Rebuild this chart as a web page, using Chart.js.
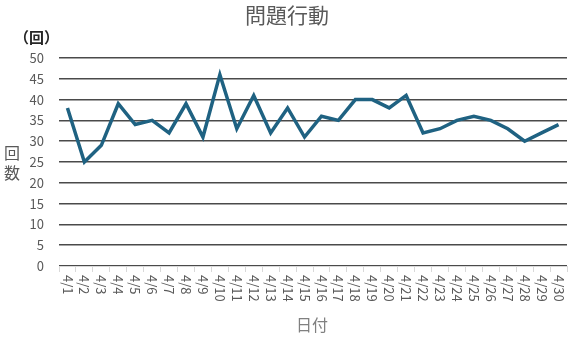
<!DOCTYPE html>
<html>
<head>
<meta charset="utf-8">
<script src="https://cdn.jsdelivr.net/npm/chart.js@4"></script>
<style>
  html, body { margin: 0; padding: 0; background: #fff; }
  #wrap { width: 571px; height: 337px; }
</style>
</head>
<body>
<div id="wrap"><canvas id="chart"></canvas></div>
<script>
// --- DATA ---
const days = ['4/1','4/2','4/3','4/4','4/5','4/6','4/7','4/8','4/9','4/10',
              '4/11','4/12','4/13','4/14','4/15','4/16','4/17','4/18','4/19','4/20',
              '4/21','4/22','4/23','4/24','4/25','4/26','4/27','4/28','4/29','4/30'];
const counts = [38, 25, 29, 39, 34, 35, 32, 39, 31, 46,
                33, 41, 32, 38, 31, 36, 35, 40, 40, 38,
                41, 32, 33, 35, 36, 35, 33, 30, 32, 34];
const chartTitle = '問題行動';
const unitLabel = '（回）';
const yTitle = ['回', '数'];
const xTitle = '日付';

const FONT = '"Noto Sans CJK JP", "Noto Sans", sans-serif';

// --- TEXT PLUGIN (title, axis titles, rotated day labels) ---
const textPlugin = {
    id: 'texts',
    afterDraw(chart) {
        const c = chart.ctx;
        const xs = chart.scales.x;
        c.save();
        c.fillStyle = '#595959';
        c.font = '21px ' + FONT;
        c.textAlign = 'center';
        c.textBaseline = 'middle';
        c.fillText(chartTitle, 287, 15);

        c.fillStyle = '#262626';
        c.font = 'bold 15px ' + FONT;
        c.textAlign = 'left';
        c.fillText(unitLabel, 14, 37);

        c.fillStyle = '#595959';
        c.font = '16px ' + FONT;
        c.textAlign = 'center';
        yTitle.forEach((ch, i) => c.fillText(ch, 12, 153 + i * 20));

        c.fillStyle = '#808080';
        c.fillText(xTitle, 312, 325);

        // day labels, rotated clockwise
        c.fillStyle = '#595959';
        c.font = '13px ' + FONT;
        c.textAlign = 'left';
        days.forEach((d, i) => {
            const x = xs.getPixelForValue(i);
            c.save();
            c.translate(x, 275);
            c.rotate(Math.PI / 2);
            c.fillText(d, 0, 0);
            c.restore();
        });
        c.restore();
    }
};

const ctx = document.getElementById('chart').getContext('2d');
new Chart(ctx, {
    type: 'line',
    data: {
        labels: days,
        datasets: [{
            data: counts,
            borderColor: '#1f6282',
            borderWidth: 3.5,
            pointRadius: 0,
            tension: 0,
            borderJoinStyle: 'miter'
        }]
    },
    options: {
        responsive: true,
        maintainAspectRatio: false,
        animation: false,
        layout: { padding: { top: 58, right: 4, left: 0, bottom: 0 } },
        plugins: { legend: { display: false }, title: { display: false }, tooltip: { enabled: false } },
        scales: {
            x: {
                offset: true,
                afterFit: (s) => { s.height = 71; },
                ticks: { display: false },
                grid: { offset: true, drawOnChartArea: false, color: '#d9d9d9', tickLength: 6 },
                border: { color: '#d9d9d9', width: 1 }
            },
            y: {
                min: 0, max: 50,
                afterFit: (s) => { s.width = 59; },
                ticks: { stepSize: 5, color: '#595959', padding: 15, font: { size: 13, family: FONT } },
                grid: { color: '#4a4a4a', lineWidth: 1.5, drawTicks: false },
                border: { display: false }
            }
        }
    },
    plugins: [textPlugin]
});
</script>
</body>
</html>
